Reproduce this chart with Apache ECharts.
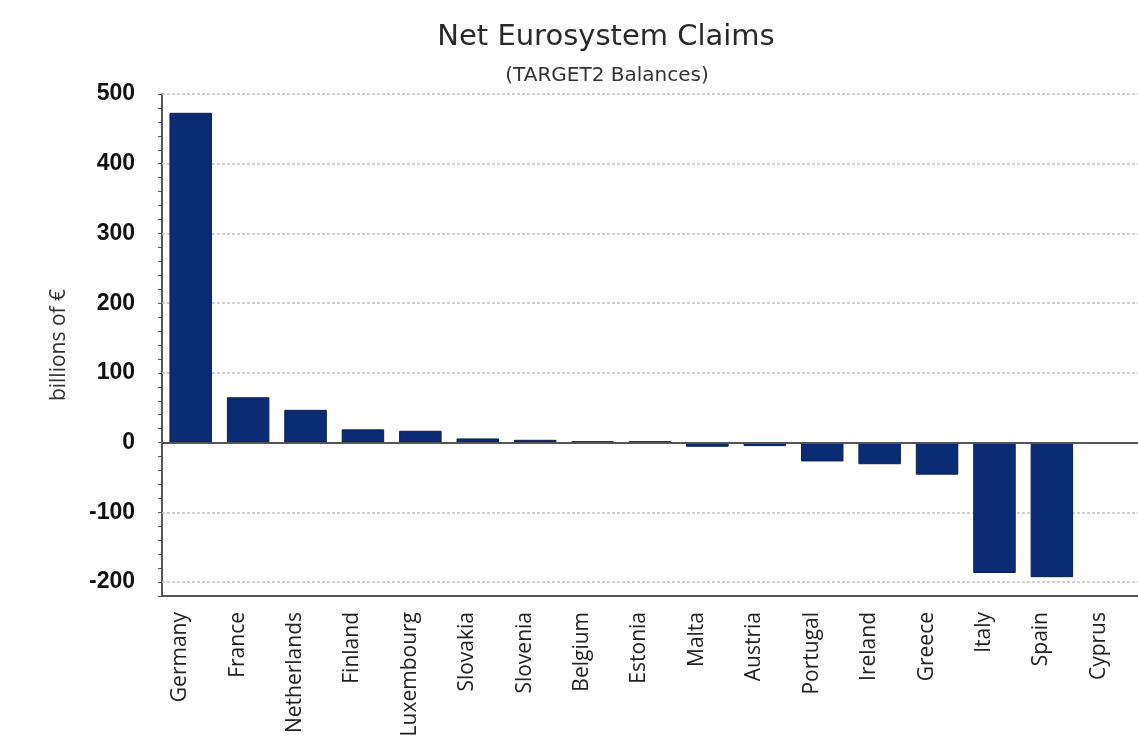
<!DOCTYPE html>
<html>
<head>
<meta charset="utf-8">
<script src="https://cdn.jsdelivr.net/npm/echarts@6/dist/echarts.min.js"></script>
<style>html,body{margin:0;padding:0;background:#fff;}#c{width:1138px;height:741px;}</style>
</head>
<body>
<div id="c"></div>
<script>
const categories = ['Germany','France','Netherlands','Finland','Luxembourg','Slovakia','Slovenia','Belgium','Estonia','Malta','Austria','Portugal','Ireland','Greece','Italy','Spain','Cyprus'];
const claims = [473, 65, 47, 19, 17, 6, 4, 2, 2, -6, -5, -27, -31, -46, -187, -193, 0];
const gridTicks = [-200, -100, 100, 200, 300, 400, 500];
const titleText = 'Net Eurosystem Claims';
const subtitleText = '(TARGET2 Balances)';
const yName = 'billions of €';

const chart = echarts.init(document.getElementById('c'));
chart.setOption({
  animation: false,
  backgroundColor: '#fff',
  title: [
    {text: titleText, left: 601, top: 18, textAlign: 'center',
     textStyle: {fontFamily: 'DejaVu Sans', fontSize: 29, fontWeight: 'normal', color: '#2a2a2a'}},
    {text: subtitleText, left: 602, top: 61, textAlign: 'center',
     textStyle: {fontFamily: 'DejaVu Sans', fontSize: 20, fontWeight: 'normal', color: '#333'}}
  ],
  grid: {left: 162, top: 94, width: 984, bottom: 145, containLabel: false},
  xAxis: {
    type: 'category', data: categories, position: 'bottom',
    axisLine: {onZero: false, lineStyle: {color: '#555', width: 2}},
    axisTick: {alignWithLabel: true, length: 6, lineStyle: {color: '#555', width: 2}},
    axisLabel: {rotate: 90, margin: 16, verticalAlign: 'bottom', fontFamily: 'Open Sans', fontSize: 21, color: '#222'}
  },
  yAxis: {
    type: 'value', min: -220, max: 500, interval: 20,
    name: yName, nameLocation: 'middle', nameGap: 92, nameRotate: 90,
    nameTextStyle: {fontFamily: 'Open Sans', fontSize: 21, color: '#333'},
    axisLine: {show: true, lineStyle: {color: '#555', width: 2}},
    axisTick: {show: true, length: 4, lineStyle: {color: '#555'}},
    splitLine: {show: false},
    axisLabel: {margin: 27, fontFamily: 'Liberation Sans', fontWeight: 'bold', fontSize: 23, color: '#111',
      formatter: v => (v % 100 === 0 ? String(v) : '')}
  },
  series: [
    {
      type: 'bar', data: claims, barCategoryGap: '26%', z: 3,
      itemStyle: {color: '#0b2c74', borderColor: '#0a1f4f', borderWidth: 1},
      markLine: {
        silent: true, symbol: 'none', z: 4,
        label: {show: false},
        lineStyle: {color: '#555', width: 2, type: 'solid'},
        data: [{yAxis: 0}]
      }
    },
    {
      type: 'line', data: [], z: 1,
      markLine: {
        silent: true, symbol: 'none', z: 1,
        label: {show: false},
        lineStyle: {color: '#c4c4c4', width: 1.5, type: [3, 2]},
        data: gridTicks.map(v => ({yAxis: v}))
      }
    }
  ]
});
</script>
</body>
</html>
